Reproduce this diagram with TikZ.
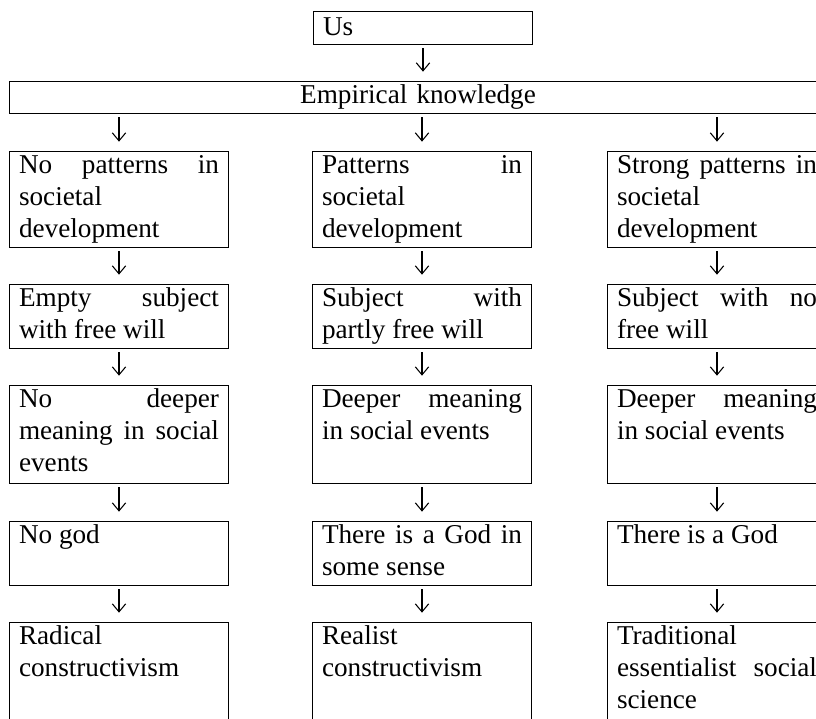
\documentclass[tikz,border=0pt]{standalone}
\usepackage{fontspec}
\setmainfont{Liberation Serif}
\usetikzlibrary{arrows.meta}

\newcommand\cellfont{\fontsize{20.4pt}{24pt}\selectfont\hyphenpenalty=10000\relax}
\tikzset{
  cell/.style={draw,line width=0.75pt,anchor=north west,inner xsep=7.125pt,inner ysep=0pt,
    text width=150pt,align=justify,font=\cellfont,text height=16.5pt},
  arr/.style={-{Straight Barb[length=6pt,width=10pt]},line width=0.8pt,
    shorten <=2.5pt,shorten >=7pt}
}

\begin{document}
\begin{tikzpicture}[x=0.75pt,y=-0.75pt]
\clip (0,0) rectangle (816,718);
\node[cell,text height=18pt,text depth=6.75pt] (us) at (313,11) {Us};
\node[cell,text width=598.5pt,align=center,text depth=7.5pt] (emp) at (9,81) {Empirical knowledge};
% left column
\node[cell,text depth=55.5pt] (a1) at (9,151) {No patterns in\linebreak societal\newline development};
\node[cell,text depth=31.5pt] (a2) at (9,284) {Empty subject\linebreak with free will};
\node[cell,text depth=57pt] (a3) at (9,385) {No deeper\linebreak meaning in social\linebreak events};
\node[cell,text depth=31.5pt] (a4) at (9,521) {No god};
\node[cell,text depth=80pt] (a5) at (9,622) {Radical\newline constructivism};
% middle column
\node[cell,text depth=55.5pt] (b1) at (312,151) {Patterns in\linebreak societal\newline development};
\node[cell,text depth=31.5pt] (b2) at (312,284) {Subject with\linebreak partly free will};
\node[cell,text depth=57pt] (b3) at (312,385) {Deeper meaning\linebreak in social events};
\node[cell,text depth=31.5pt] (b4) at (312,521) {There is a God in\linebreak some sense};
\node[cell,text depth=80pt] (b5) at (312,622) {Realist\newline constructivism};
% right column
\node[cell,text depth=55.5pt] (c1) at (607,151) {Strong patterns in\linebreak societal\newline development};
\node[cell,text depth=31.5pt] (c2) at (607,284) {Subject with no\linebreak free will};
\node[cell,text depth=57pt] (c3) at (607,385) {Deeper meaning\linebreak in social events};
\node[cell,text depth=31.5pt] (c4) at (607,521) {There is a God};
\node[cell,text depth=80pt] (c5) at (607,622) {Traditional\newline essentialist social\linebreak science};
% arrows
\draw[arr] (us) -- (us.south |- emp.north);
\foreach \col in {a,b,c} {
  \draw[arr] (\col1.north |- emp.south) -- (\col1);
  \foreach \i/\j in {1/2,2/3,3/4,4/5}
    \draw[arr] (\col\i) -- (\col\j);
}
\end{tikzpicture}
\end{document}
